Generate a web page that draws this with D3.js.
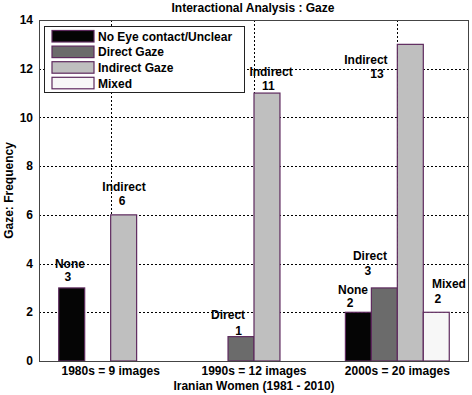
<!DOCTYPE html>
<html>
<head>
<meta charset="utf-8">
<script src="https://cdn.jsdelivr.net/npm/d3@7"></script>
<style>
  body { margin: 0; background: #fff; }
  text { font-family: "Liberation Sans", Arial, sans-serif; font-weight: bold; font-size: 12px; fill: #000; }
</style>
</head>
<body>
<svg id="chart"></svg>
<script>
// data
const categories = ["1980s = 9 images", "1990s = 12 images", "2000s = 20 images"];
const seriesNames = ["No Eye contact/Unclear", "Direct Gaze", "Indirect Gaze", "Mixed"];
const noneVals = [3, 0, 2];
const directVals = [0, 1, 3];
const indirectVals = [6, 11, 13];
const mixedVals = [0, 0, 2];
const yTicks = [0, 2, 4, 6, 8, 10, 12, 14];
// bar labels in axis units (x: 1..3 = groups, y: frequency)
const labelText = ["None", "3", "Indirect", "6", "Direct", "1", "Indirect", "11",
                   "Indirect", "13", "Direct", "3", "None", "2", "Mixed", "2"];
const labelX = [0.716, 0.702, 1.093, 1.079, 1.819, 1.893, 2.119, 2.10,
                2.781, 2.858, 2.809, 2.795, 2.691, 2.670, 3.36, 3.282];
const labelY = [4.01, 3.44, 7.15, 6.56, 1.88, 1.26, 11.87, 11.28,
                12.35, 11.78, 4.30, 3.70, 2.94, 2.37, 3.19, 2.55];

const W = 472, H = 395;
const margin = { top: 20, right: 3, bottom: 34, left: 39 };
const colors = ["#050505", "#6b6b6b", "#bfbfbf", "#f7f7f7"];
const edge = "#5e2a5e";

const svg = d3.select("#chart").attr("width", W).attr("height", H);

const x0 = d3.scaleBand().domain(categories)
    .range([margin.left, W - margin.right]).padding(0);
const x1 = d3.scaleBand().domain(seriesNames)
    .range([0, x0.bandwidth()]).paddingInner(0).paddingOuter(0.76);
const xLin = d3.scaleLinear().domain([0.5, 3.5]).range([margin.left, W - margin.right]);
const y = d3.scaleLinear().domain([0, 14]).range([H - margin.bottom, margin.top]);

// grid
const grid = svg.append("g").attr("stroke", "#000").attr("stroke-dasharray", "2,2").attr("stroke-width", 1);
grid.selectAll(".hg").data(yTicks.slice(1, -1)).enter().append("line")
    .attr("x1", margin.left).attr("x2", W - margin.right)
    .attr("y1", d => Math.round(y(d)) + 0.5).attr("y2", d => Math.round(y(d)) + 0.5);
grid.selectAll(".vg").data(categories).enter().append("line")
    .attr("x1", d => Math.round(x0(d) + x0.bandwidth() / 2) + 0.5)
    .attr("x2", d => Math.round(x0(d) + x0.bandwidth() / 2) + 0.5)
    .attr("y1", margin.top).attr("y2", H - margin.bottom);

// bars
const allVals = [noneVals, directVals, indirectVals, mixedVals];
const barData = [];
categories.forEach((c, i) => {
    seriesNames.forEach((s, j) => barData.push({ cat: c, series: s, idx: j, value: allVals[j][i] }));
});
svg.append("g").selectAll("rect").data(barData).enter().append("rect")
    .attr("x", d => x0(d.cat) + x1(d.series))
    .attr("y", d => y(d.value))
    .attr("width", x1.bandwidth())
    .attr("height", d => y(0) - y(d.value))
    .attr("fill", d => colors[d.idx])
    .attr("stroke", edge)
    .attr("stroke-width", 1.2);

// plot frame
svg.append("rect")
    .attr("x", margin.left + 0.5).attr("y", margin.top + 0.5)
    .attr("width", W - margin.left - margin.right - 1)
    .attr("height", H - margin.top - margin.bottom)
    .attr("fill", "none").attr("stroke", "#444").attr("stroke-width", 1);

// y tick labels
svg.append("g").selectAll("text").data(yTicks).enter().append("text")
    .attr("x", margin.left - 6).attr("y", d => y(d)).attr("dy", "0.35em")
    .attr("text-anchor", "end").text(d => d);

// x tick labels
svg.append("g").selectAll("text").data(categories).enter().append("text")
    .attr("x", d => x0(d) + x0.bandwidth() / 2).attr("y", 375)
    .attr("text-anchor", "middle").text(d => d);

// axis titles
svg.append("text").attr("x", (margin.left + W - margin.right) / 2).attr("y", 390)
    .attr("text-anchor", "middle").text("Iranian Women (1981 - 2010)");
svg.append("text")
    .attr("transform", `translate(12.5, ${(margin.top + H - margin.bottom) / 2}) rotate(-90)`)
    .attr("text-anchor", "middle").text("Gaze: Frequency");
svg.append("text").attr("x", 253).attr("y", 11.5)
    .attr("text-anchor", "middle").text("Interactional Analysis : Gaze");

// bar labels
svg.append("g").selectAll("text").data(labelText).enter().append("text")
    .attr("x", (d, i) => xLin(labelX[i])).attr("y", (d, i) => y(labelY[i]))
    .attr("dy", "0.35em").attr("text-anchor", "middle").text(d => d);

// legend
const legend = svg.append("g");
legend.append("rect").attr("x", 44.5).attr("y", 26.5).attr("width", 200).attr("height", 66)
    .attr("fill", "#fff").attr("stroke", "#222").attr("stroke-width", 1);
const rows = legend.selectAll(".row").data(seriesNames).enter().append("g")
    .attr("transform", (d, i) => `translate(0, ${30.5 + i * 15.6})`);
rows.append("rect").attr("x", 52).attr("y", 0).attr("width", 42).attr("height", 11.5)
    .attr("fill", (d, i) => colors[i]).attr("stroke", edge).attr("stroke-width", 1.2);
rows.append("text").attr("x", 98).attr("y", 6).attr("dy", "0.35em").text(d => d);
</script>
</body>
</html>
